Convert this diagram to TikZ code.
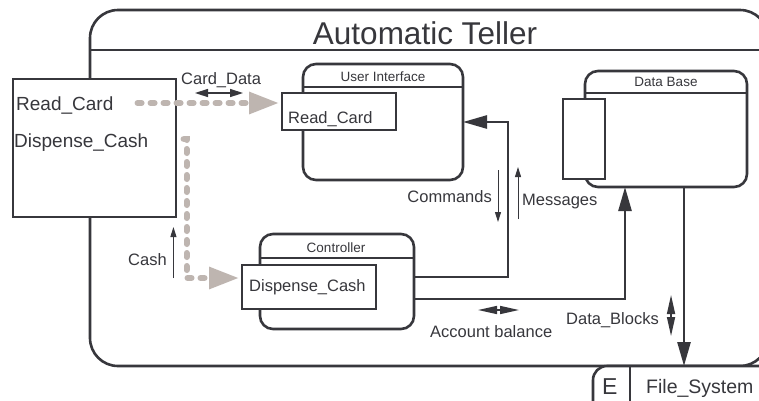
\documentclass[tikz,border=0pt]{standalone}
\usepackage{fontspec}
\setmainfont{Liberation Sans}
\usetikzlibrary{arrows.meta}
\definecolor{ink}{RGB}{55,55,60}
\definecolor{flow}{RGB}{190,181,176}
\begin{document}
\begin{tikzpicture}[x=1pt,y=-1pt,
        every node/.style={text=ink},
        box/.style={draw=ink,line width=2.6pt,fill=white,inner sep=0pt,outer sep=0pt},
        pkg/.style={box,rounded corners=13pt},
        wire/.style={draw=ink,line width=2.6pt},
        conn/.style={wire,-{Triangle[length=24pt,width=13pt]}},
        flowline/.style={draw=flow,line width=6pt,dash pattern=on 4pt off 9pt,line cap=round,
            -{Triangle[length=30pt,width=21pt]},shorten >=3pt},
        thinarr/.style={draw=ink,line width=1pt,-{Triangle[length=10pt,width=6pt]}},
        twohead/.style={draw=ink,line width=1.5pt,{Triangle[length=#1,width=8pt]}-{Triangle[length=#1,width=8pt]}},
        lbl/.style={font=\fontsize{16.5}{19}\selectfont,inner sep=0pt},
        hdr/.style={font=\fontsize{13.5}{16}\selectfont,inner sep=0pt},
        bigtxt/.style={font=\fontsize{19}{22}\selectfont,inner sep=0pt}]
    \useasboundingbox (0,0) rectangle (759,400);
    \clip (0,0) rectangle (759,400);

    % enclosing package
    \node[pkg,rounded corners=28pt,minimum width=678pt,minimum height=356pt] (teller) at (429,188) {};
    \draw[wire] ([yshift=-40pt]teller.north west) -- ([yshift=-40pt]teller.north east);
    \node[font=\fontsize{31.5}{36}\selectfont,inner sep=0pt,anchor=base] (title) at (425,44) {Automatic Teller};

    % external interface
    \node[box,minimum width=163pt,minimum height=138pt] (ext) at (94.5,148) {};
    \node[bigtxt,anchor=base west] (rc) at (16,110) {Read\_Card};
    \node[bigtxt,anchor=base west] (dc) at (14,147) {Dispense\_Cash};

    % user interface
    \node[pkg,minimum width=160pt,minimum height=116pt] (ui) at (383,122) {};
    \draw[wire] ([yshift=-23pt]ui.north west) -- ([yshift=-23pt]ui.north east);
    \node[hdr,anchor=base] (uit) at (383,81) {User Interface};
    \node[box,minimum width=114pt,minimum height=37pt] (rcui) at (339,111.5) {};
    \node[lbl,anchor=base west] (rcuit) at (288,123) {Read\_Card};

    % data base
    \node[pkg,minimum width=162pt,minimum height=116pt] (db) at (666,129) {};
    \draw[wire] ([yshift=-22pt]db.north west) -- ([yshift=-22pt]db.north east);
    \node[hdr,anchor=base] (dbt) at (666,86) {Data Base};
    \node[box,minimum width=42pt,minimum height=80pt] (dbport) at (584,139) {};

    % controller
    \node[pkg,minimum width=154pt,minimum height=95pt] (ctrl) at (337,281.5) {};
    \draw[wire] ([yshift=-24pt]ctrl.north west) -- ([yshift=-24pt]ctrl.north east);
    \node[hdr,anchor=base] (ctrlt) at (336,252) {Controller};
    \node[box,minimum width=134pt,minimum height=44pt] (dcui) at (309,287) {};
    \node[lbl,anchor=base west] (dcuit) at (249,291) {Dispense\_Cash};

    % file system
    \node[box,rounded corners=14pt,minimum width=207pt,minimum height=64pt,anchor=north west] (fs) at (593,366) {};
    \draw[wire] ([xshift=37pt]fs.north west) -- ([xshift=37pt]fs.south west);
    \node[font=\fontsize{23}{26}\selectfont,inner sep=0pt,anchor=base west] (e) at (602,394) {E};
    \node[font=\fontsize{19.5}{22}\selectfont,inner sep=0pt,anchor=base west] (fst) at (646,393) {File\_System};

    % connectors
    \path[conn] ([yshift=4.5pt]ctrl.east) -| ([xshift=45pt]ui.east) -- (ui.east);
    \path[conn] ([yshift=-17.5pt]ctrl.east) -| ([xshift=-41pt]db.south);
    \path[conn] ([xshift=18pt]db.south) -- ([xshift=18pt]db.south |- fs.north);

    % delegation flows
    \coordinate (f1) at ([shift={(24pt,7pt)}]rc.base east);
    \coordinate (f2) at ([shift={(35pt,8pt)}]dc.base east);
    \path[flowline] (f1) -- (f1 -| rcui.west);
    \path[flowline] (f2) -- ++(3,0) |- ([yshift=9pt]dcui.west);

    % labels
    \node[lbl,anchor=base west] (cd) at (181,84) {Card\_Data};
    \path[twohead=13pt] ([shift={(14pt,-9pt)}]cd.base west) -- ([shift={(62pt,-9pt)}]cd.base west);
    \node[lbl,anchor=base west] (cash) at (128,265) {Cash};
    \path[thinarr] ([shift={(6.5pt,-13pt)}]cash.base east) -- ([shift={(6.5pt,38pt)}]cash.base east);
    \node[lbl,anchor=base east] (cmd) at (492,202) {Commands};
    \path[thinarr] ([shift={(6pt,32pt)}]cmd.base east) -- ([shift={(6pt,-20pt)}]cmd.base east);
    \node[lbl,anchor=base west] (msg) at (522,205) {Messages};
    \path[thinarr] ([shift={(-4pt,-14pt)}]msg.base west) -- ([shift={(-4pt,38pt)}]msg.base west);
    \node[lbl,anchor=base west] (ab) at (430,337) {Account balance};
    \path[twohead=19pt] ([shift={(48pt,27pt)}]ab.base west) -- ([shift={(89pt,27pt)}]ab.base west);
    \node[lbl,anchor=base west] (blk) at (566,324) {Data\_Blocks};
    \path[twohead=19pt] ([shift={(12pt,29pt)}]blk.base east) -- ([shift={(12pt,-12pt)}]blk.base east);
\end{tikzpicture}
\end{document}
